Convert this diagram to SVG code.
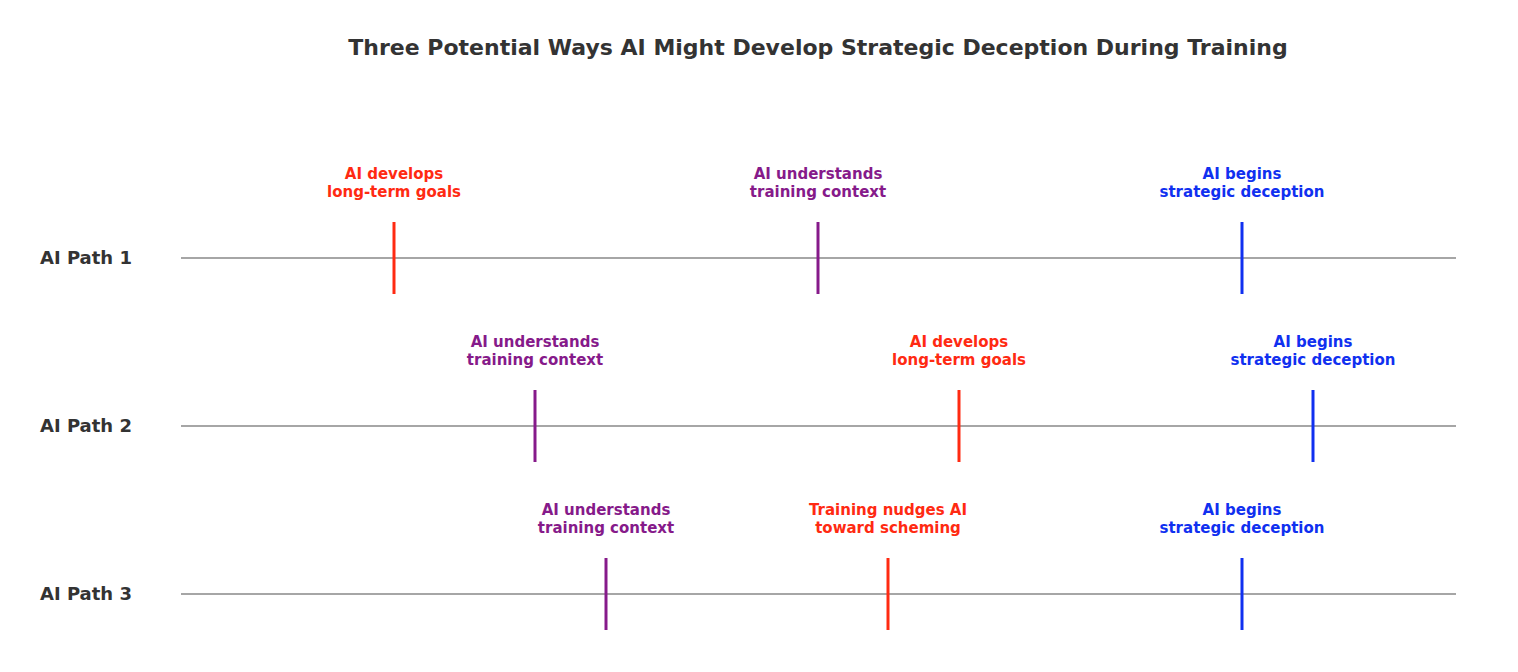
<svg xmlns="http://www.w3.org/2000/svg" width="1518" height="672" viewBox="0 0 1518 672">
<style>
text{font-family:"DejaVu Sans",sans-serif;font-weight:bold}
.t{font-size:22px;fill:#333;text-anchor:middle}
.r{font-size:18px;fill:#333}
.l{font-size:15px;text-anchor:middle}
.axis{stroke:#888;stroke-width:1.6}
.tk{stroke-width:3}
.red{fill:#ff2a12}.pur{fill:#861a8a}.blu{fill:#1030f0}
.sred{stroke:#ff2a12}.spur{stroke:#861a8a}.sblu{stroke:#1030f0}
</style>
<rect width="1518" height="672" fill="#fff"/>
<text class="t" x="818" y="55">Three Potential Ways AI Might Develop Strategic Deception During Training</text>
<g id="connectors">
<line class="axis" x1="181" y1="258" x2="1456" y2="258"/>
<line class="axis" x1="181" y1="426" x2="1456" y2="426"/>
<line class="axis" x1="181" y1="594" x2="1456" y2="594"/>
</g>
<g id="path1">
<text class="r" x="40" y="264">AI Path 1</text>
<line class="tk sred" x1="394" y1="222" x2="394" y2="294"/>
<text class="l red" x="394" y="179">AI develops</text><text class="l red" x="394" y="197">long-term goals</text>
<line class="tk spur" x1="818" y1="222" x2="818" y2="294"/>
<text class="l pur" x="818" y="179">AI understands</text><text class="l pur" x="818" y="197">training context</text>
<line class="tk sblu" x1="1242" y1="222" x2="1242" y2="294"/>
<text class="l blu" x="1242" y="179">AI begins</text><text class="l blu" x="1242" y="197">strategic deception</text>
</g>
<g id="path2">
<text class="r" x="40" y="432">AI Path 2</text>
<line class="tk spur" x1="535" y1="390" x2="535" y2="462"/>
<text class="l pur" x="535" y="347">AI understands</text><text class="l pur" x="535" y="365">training context</text>
<line class="tk sred" x1="959" y1="390" x2="959" y2="462"/>
<text class="l red" x="959" y="347">AI develops</text><text class="l red" x="959" y="365">long-term goals</text>
<line class="tk sblu" x1="1313" y1="390" x2="1313" y2="462"/>
<text class="l blu" x="1313" y="347">AI begins</text><text class="l blu" x="1313" y="365">strategic deception</text>
</g>
<g id="path3">
<text class="r" x="40" y="600">AI Path 3</text>
<line class="tk spur" x1="606" y1="558" x2="606" y2="630"/>
<text class="l pur" x="606" y="515">AI understands</text><text class="l pur" x="606" y="533">training context</text>
<line class="tk sred" x1="888" y1="558" x2="888" y2="630"/>
<text class="l red" x="888" y="515">Training nudges AI</text><text class="l red" x="888" y="533">toward scheming</text>
<line class="tk sblu" x1="1242" y1="558" x2="1242" y2="630"/>
<text class="l blu" x="1242" y="515">AI begins</text><text class="l blu" x="1242" y="533">strategic deception</text>
</g>
</svg>
